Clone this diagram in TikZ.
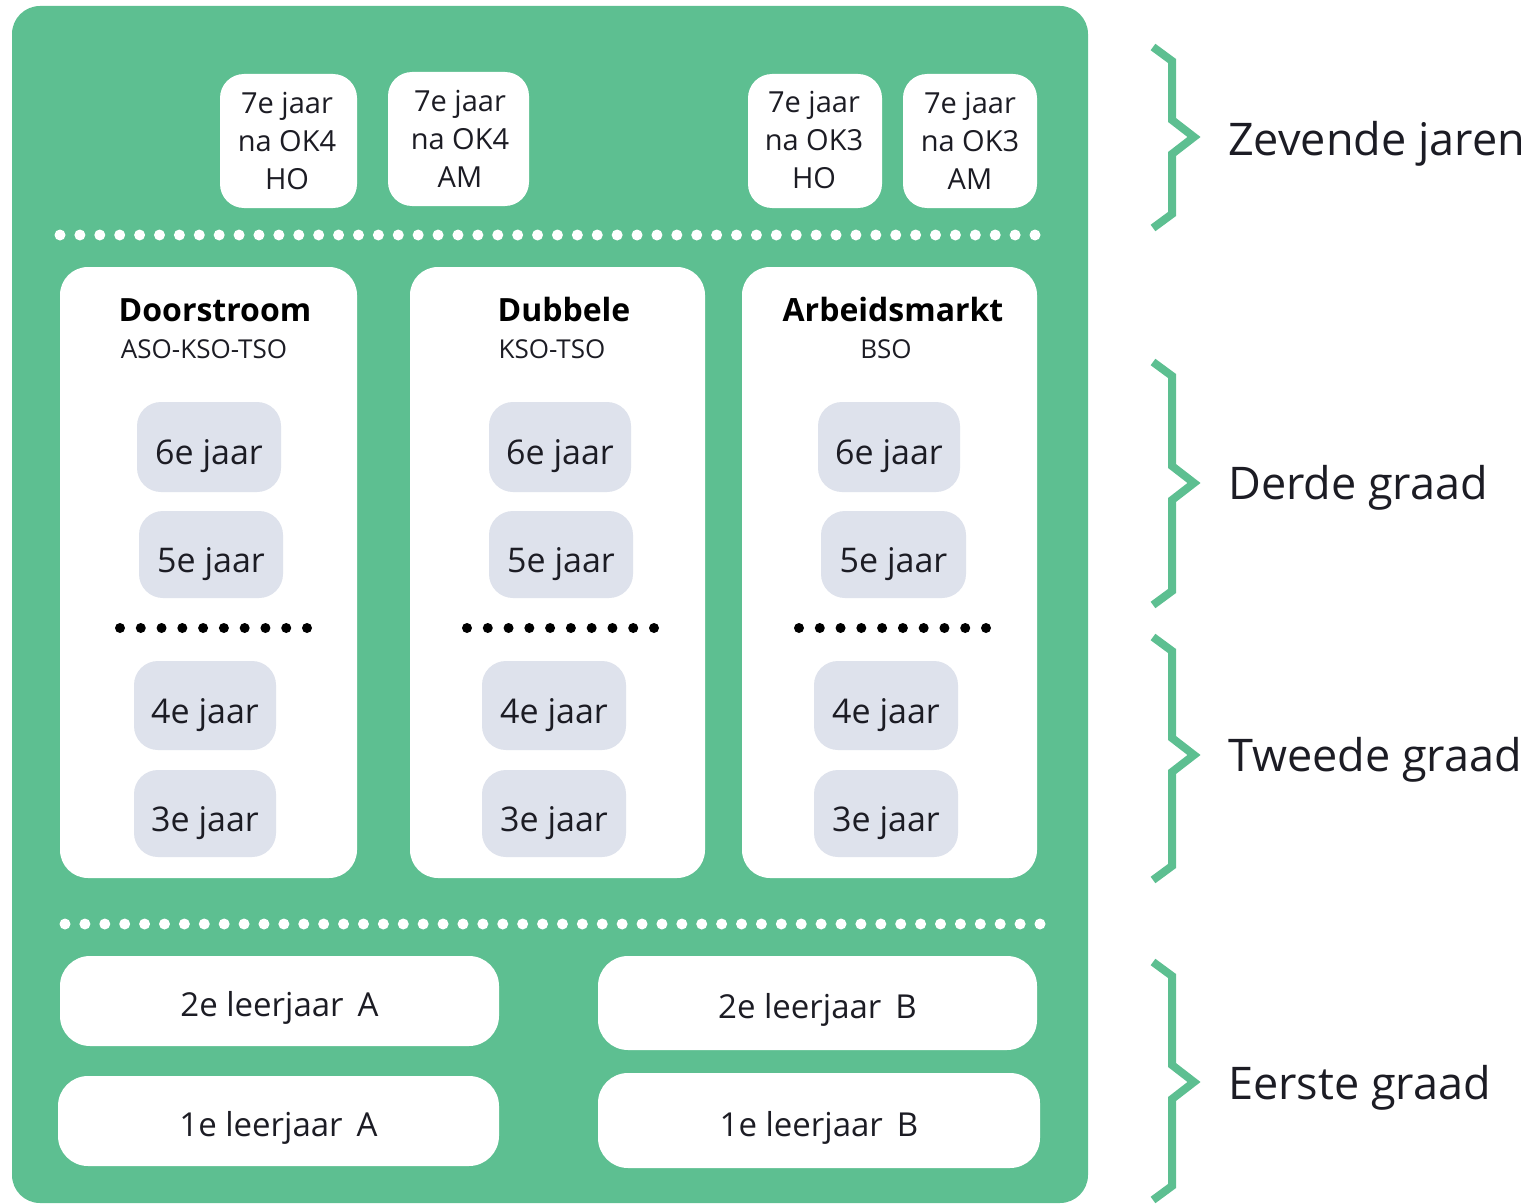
\documentclass[tikz,border=0pt]{standalone}
\usepackage{fontspec}
\setmainfont{Open Sans}
\definecolor{pgreen}{HTML}{5DBF91}
\definecolor{pgrey}{HTML}{DEE2EC}
\definecolor{ptext}{HTML}{1C1C24}
\newcommand\levelbrace[3]{\draw[bracestyle] (1153,#1) -- (1172,{#1+14}) -- (1172,{#2-17}) -- (1194,#2) -- (1172,{#2+17}) -- (1172,{#3-14}) -- (1153,#3);}
\begin{document}
\begin{tikzpicture}[x=1pt,y=-1pt,
  topcard/.style={fill=white, rounded corners=24pt, inner sep=0pt},
  toptext/.style={inner sep=0pt, align=center, text=ptext, font=\fontsize{29}{38}\selectfont},
  column/.style={fill=white, rounded corners=28pt, inner sep=0pt},
  yearbox/.style={fill=pgrey, rounded corners=24pt, inner sep=0pt, text=ptext, font=\fontsize{34}{40}\selectfont, text height=35pt, text depth=0pt},
  gradebox/.style={fill=white, rounded corners=30pt, inner sep=0pt, text=ptext, font=\fontsize{33}{40}\selectfont, text height=31pt, text depth=0pt},
  coltitle/.style={inner sep=0pt, text=black, font=\fontsize{32}{38}\selectfont\bfseries, text height=22.8pt, text depth=0pt},
  colsub/.style={inner sep=0pt, text=ptext, font=\fontsize{26}{30}\selectfont, text height=18.6pt, text depth=0pt},
  levellabel/.style={inner sep=0pt, anchor=base west, text=ptext, font=\fontsize{45}{54}\selectfont},
  bracestyle/.style={draw=pgreen, line width=8pt, miter limit=10},
]
\useasboundingbox (0,0) rectangle (1532,1204);
% main panel
\fill[pgreen, rounded corners=28pt] (12,6) rectangle (1088,1203);

% seventh-year cards
\node[topcard, minimum width=137pt, minimum height=134pt] (t1) at (288.5,141) {};
\node[topcard, minimum width=141pt, minimum height=134pt] (t2) at (458.5,139) {};
\node[topcard, minimum width=134pt, minimum height=134pt] (t3) at (815,141) {};
\node[topcard, minimum width=134pt, minimum height=134pt] (t4) at (970,141) {};
\node[toptext] (t1txt) at (287,141) {7e jaar\\na OK4\\HO};
\node[toptext] (t2txt) at (460,139) {7e jaar\\na OK4\\AM};
\node[toptext] (t3txt) at (814,140) {7e jaar\\na OK3\\HO};
\node[toptext] (t4txt) at (970,141) {7e jaar\\na OK3\\AM};

% white dotted separators
\foreach \i in {0,...,49} \fill[white] ({60+\i*19.898},235) circle[radius=5.5pt];
\foreach \i in {0,...,49} \fill[white] ({65+\i*19.898},924) circle[radius=5.5pt];

% columns
\node[column, minimum width=297pt, minimum height=611pt] (c1) at (208.5,572.5) {};
\node[column, minimum width=295pt, minimum height=611pt] (c2) at (557.5,572.5) {};
\node[column, minimum width=295pt, minimum height=611pt] (c3) at (889.5,572.5) {};

\node[coltitle] (c1t) at (215,310) {Doorstroom};
\node[colsub] (c1s) at (204,349) {ASO-KSO-TSO};
\node[coltitle] (c2t) at (564,310) {Dubbele};
\node[colsub] (c2s) at (552,349) {KSO-TSO};
\node[coltitle] (c3t) at (893,310) {Arbeidsmarkt};
\node[colsub] (c3s) at (886,349) {BSO};

% year boxes
\node[yearbox, minimum width=144pt, minimum height=90pt] (g16) at (209,447) {6e jaar};
\node[yearbox, minimum width=144pt, minimum height=87pt] (g15) at (211,554.5) {5e jaar};
\node[yearbox, minimum width=142pt, minimum height=89pt] (g14) at (205,705.5) {4e jaar};
\node[yearbox, minimum width=142pt, minimum height=87pt] (g13) at (205,813.5) {3e jaar};

\node[yearbox, minimum width=142pt, minimum height=90pt] (g26) at (560,447) {6e jaar};
\node[yearbox, minimum width=144pt, minimum height=87pt] (g25) at (561,554.5) {5e jaar};
\node[yearbox, minimum width=144pt, minimum height=89pt] (g24) at (554,705.5) {4e jaar};
\node[yearbox, minimum width=144pt, minimum height=87pt] (g23) at (554,813.5) {3e jaar};

\node[yearbox, minimum width=142pt, minimum height=90pt] (g36) at (889,447) {6e jaar};
\node[yearbox, minimum width=145pt, minimum height=87pt] (g35) at (893.5,554.5) {5e jaar};
\node[yearbox, minimum width=144pt, minimum height=89pt] (g34) at (886,705.5) {4e jaar};
\node[yearbox, minimum width=144pt, minimum height=87pt] (g33) at (886,813.5) {3e jaar};

% black dotted separators
\foreach \s in {120,467,799} \foreach \i in {0,...,9} \fill[black] ({\s+\i*20.778},628) circle[radius=5pt];

% first grade boxes
\node[gradebox, minimum width=439pt, minimum height=90pt] (b2A) at (279.5,1001) {2e leerjaar\hspace{14pt}A};
\node[gradebox, minimum width=441pt, minimum height=90pt] (b1A) at (278.5,1121) {1e leerjaar\hspace{14pt}A};
\node[gradebox, minimum width=439pt, minimum height=94pt] (b2B) at (817.5,1003) {2e leerjaar\hspace{14pt}B};
\node[gradebox, minimum width=442pt, minimum height=95pt] (b1B) at (819,1120.5) {1e leerjaar\hspace{14pt}B};

% braces and level labels
\levelbrace{47}{137}{228}
\levelbrace{362}{483}{605}
\levelbrace{637}{755}{880}
\levelbrace{962}{1082}{1200}
\node[levellabel] (l7) at (1228,156) {Zevende jaren};
\node[levellabel] (l3) at (1228,499) {Derde graad};
\node[levellabel] (l2) at (1228,771) {Tweede graad};
\node[levellabel] (l1) at (1228,1099) {Eerste graad};
\end{tikzpicture}
\end{document}
